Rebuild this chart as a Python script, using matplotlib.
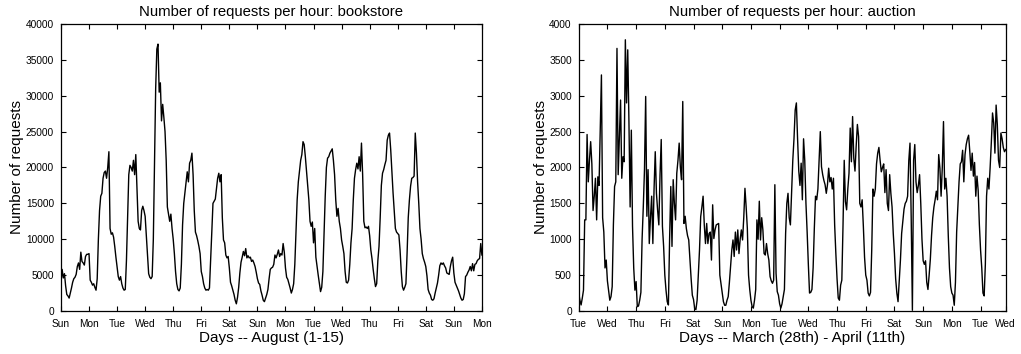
import numpy as np
import matplotlib
matplotlib.use("Agg")
import matplotlib.pyplot as plt

plt.rcParams['font.family'] = ['Liberation Sans', 'DejaVu Sans']

# hourly request counts, bookstore trace, August 1-15
bookstore = [
    4000, 5800, 4600, 5200, 3500, 2300, 2100, 1800, 2500, 3200, 4000, 4500, 4700, 5100, 6200, 6700, 5800, 8200, 6900, 6700, 6400, 7600, 7900, 7900,
    8000, 4300, 4000, 3600, 3800, 3300, 2900, 4500, 10000, 14000, 16000, 16400, 18500, 19300, 19500, 18500, 20000, 22200, 11500, 10700, 10900, 10300, 9000, 7500,
    6200, 4800, 4300, 4800, 3800, 3200, 2900, 3000, 7000, 13000, 19000, 20300, 20000, 19500, 21000, 19000, 21800, 17000, 12500, 11500, 11300, 14000, 14600, 14000,
    13200, 10500, 8000, 5200, 4700, 4500, 4800, 10000, 21000, 31000, 36500, 37200, 30500, 31800, 26500, 28800, 27000, 25000, 21000, 14500, 13500, 12500, 13500, 11500,
    10000, 8000, 5500, 3800, 3000, 2800, 3200, 6500, 12000, 15000, 16500, 18000, 19400, 18000, 20600, 21000, 22000, 19000, 14000, 11000, 10500, 9800, 9000, 8000,
    5500, 4800, 3800, 3200, 2900, 3000, 2900, 3200, 7000, 11000, 15000, 15300, 15600, 17000, 18500, 19200, 18000, 19000, 13000, 9900, 9500, 7800, 7400, 7600,
    6000, 4000, 3500, 2900, 2300, 1500, 1000, 1900, 3300, 5300, 6800, 7500, 8300, 7700, 8700, 7400, 7700, 7400, 7500, 6900, 7100, 6700, 6200, 5400,
    4500, 3900, 3700, 2800, 2200, 1500, 1300, 1800, 2300, 3000, 4500, 5800, 6000, 6100, 6500, 7800, 7400, 7900, 8500, 7600, 8000, 7800, 9400, 8200,
    6000, 4700, 4400, 3800, 3200, 2500, 3000, 3800, 6500, 11000, 15500, 18000, 19500, 21000, 21800, 23600, 23200, 21500, 19500, 17400, 15500, 12500, 11800, 12400,
    9500, 11500, 7500, 6200, 5000, 3800, 2700, 3300, 5500, 11000, 16000, 20000, 21300, 21500, 22000, 22300, 22600, 21000, 19000, 15500, 13200, 14300, 12500, 11500,
    9900, 9000, 8000, 5500, 4000, 3900, 4300, 6500, 9500, 11500, 15500, 18500, 19700, 20600, 19800, 21500, 19500, 23400, 19000, 12500, 11600, 11700, 11500, 11800,
    10500, 8500, 7300, 5800, 4500, 3400, 3800, 7000, 9000, 13000, 17500, 19200, 19700, 20400, 21000, 23800, 24500, 24800, 22500, 19500, 16500, 14000, 11500, 11000,
    10800, 10600, 8500, 5500, 3400, 2900, 3300, 3800, 8000, 13000, 15500, 17400, 18500, 18600, 18800, 24800, 22000, 18000, 15000, 11500, 10000, 8000, 7300, 6800,
    6200, 4900, 3000, 2500, 2200, 1600, 1500, 1700, 2500, 3200, 3900, 5000, 6300, 6700, 6500, 6700, 6300, 6000, 5300, 5200, 5100, 6200, 7000, 7500,
    5300, 4000, 3600, 3200, 2800, 2300, 1800, 1500, 1600, 2400, 4800, 5000, 5400, 5700, 6200, 5600, 6600, 5600, 6500, 6600, 7000, 7200, 7300, 9400,
    7800,
]

# hourly request counts, auction trace, March 28 - April 11
auction = [
    250, 150, 84, 180, 290, 1270, 1270, 2460, 1800, 2100, 2360, 2050, 1400, 1600, 1850, 1270, 1870, 1750, 2500, 3290, 1300, 1100, 600, 710,
    420, 280, 150, 200, 340, 1200, 1735, 1800, 3660, 1900, 2400, 2940, 1850, 2150, 2080, 3780, 2900, 3640, 2640, 1450, 2520, 1180, 600, 290,
    410, 60, 70, 150, 260, 1000, 1450, 1970, 2990, 1320, 1970, 940, 1300, 1600, 940, 1700, 2220, 1640, 1400, 1200, 1900, 2390, 1180, 900,
    500, 290, 130, 84, 1000, 1735, 900, 1830, 1500, 1270, 1920, 2100, 2340, 2000, 1830, 2920, 1220, 1320, 1150, 1050, 990, 720, 450, 220,
    160, 30, 20, 150, 500, 850, 1315, 1450, 1600, 1200, 940, 1220, 940, 1080, 1100, 710, 1480, 1010, 1130, 1200, 1210, 1220, 500, 380,
    250, 130, 80, 80, 150, 200, 400, 620, 850, 990, 760, 1100, 850, 1130, 800, 1000, 1130, 990, 1300, 1710, 1450, 1150, 500, 300,
    150, 60, 40, 150, 300, 1270, 1000, 1530, 990, 1300, 1130, 800, 780, 940, 800, 710, 480, 420, 386, 430, 1760, 525, 270, 220,
    100, 40, 100, 200, 300, 1080, 1500, 1640, 1300, 1200, 1640, 2100, 2400, 2800, 2900, 2400, 1950, 1750, 2060, 1550, 2400, 2100, 1500, 1100,
    650, 250, 260, 300, 600, 1150, 1600, 1550, 1700, 2100, 2500, 2010, 1900, 1820, 1760, 1640, 1760, 1990, 1800, 1860, 1700, 1850, 1200, 800,
    450, 180, 150, 360, 430, 1200, 2100, 1525, 1410, 1700, 1920, 2550, 2080, 2710, 2130, 1950, 2300, 2600, 2430, 1500, 1450, 1550, 1180, 750,
    500, 430, 250, 210, 260, 850, 1700, 1600, 1700, 2050, 2200, 2280, 2100, 1940, 2000, 2050, 1650, 1970, 1500, 1400, 1900, 1640, 1450, 1080,
    800, 450, 250, 130, 430, 710, 1080, 1250, 1420, 1500, 1530, 1600, 2100, 2340, 1300, 10, 2100, 2320, 1800, 1650, 1750, 1900, 1500, 1000,
    700, 650, 700, 400, 300, 500, 720, 1050, 1300, 1450, 1550, 1670, 1550, 2180, 1990, 1600, 2000, 2640, 1700, 1850, 1600, 1050, 600, 340,
    250, 220, 80, 400, 1100, 1450, 1800, 2050, 2080, 2240, 1800, 2180, 2320, 2400, 2450, 2220, 1960, 2200, 1880, 2070, 1600, 1880, 1680, 1200,
    850, 600, 250, 210, 650, 1600, 1850, 1700, 2000, 2350, 2760, 2620, 2200, 2870, 2600, 2100, 2000, 2480, 2400, 2280, 2220, 2250,
]

book_days = ['Sun', 'Mon', 'Tue', 'Wed', 'Thu', 'Fri', 'Sat',
             'Sun', 'Mon', 'Tue', 'Wed', 'Thu', 'Fri', 'Sat', 'Sun', 'Mon']
auction_days = ['Tue', 'Wed', 'Thu', 'Fri', 'Sat', 'Sun', 'Mon',
                'Tue', 'Wed', 'Thu', 'Fri', 'Sat', 'Sun', 'Mon', 'Tue', 'Wed']


def style(ax):
    for s in ax.spines.values():
        s.set_linewidth(0.9)
    ax.tick_params(direction='in', length=3.5, width=0.8, top=True, right=True,
                   labelsize=7.3, pad=5)
    ax.tick_params(axis='x', pad=6)


fig = plt.figure(figsize=(10.21, 3.54), dpi=100)

# bookstore panel
ax1 = fig.add_axes([0.0597, 0.1215, 0.4123, 0.8107])
h1 = np.arange(len(bookstore))
ax1.plot(h1, bookstore, color='black', lw=1.0)
ax1.set_xlim(0, 360)
ax1.set_ylim(0, 40000)
ax1.set_xticks(np.arange(0, 361, 24))
ax1.set_xticklabels(book_days)
ax1.set_yticks(np.arange(0, 40001, 5000))
ax1.set_title('Number of requests per hour: bookstore', fontsize=10.7, pad=6)
ax1.set_xlabel('Days -- August (1-15)', fontsize=11, labelpad=1)
ax1.set_ylabel('Number of requests', fontsize=11, labelpad=1)
style(ax1)

# auction panel
ax2 = fig.add_axes([0.5668, 0.1215, 0.4182, 0.8107])
h2 = np.arange(len(auction))
ax2.plot(h2, auction, color='black', lw=1.0)
end2 = len(auction) - 1
ax2.set_xlim(0, end2)
ax2.set_ylim(0, 4000)
ax2.set_xticks(list(np.arange(0, end2 - 20, 24)) + [end2])
ax2.set_xticklabels(auction_days)
ax2.set_yticks(np.arange(0, 4001, 500))
ax2.set_title('Number of requests per hour: auction', fontsize=10.7, pad=6)
ax2.set_xlabel('Days -- March (28th) - April (11th)', fontsize=11, labelpad=1)
ax2.set_ylabel('Number of requests', fontsize=11, labelpad=1)
style(ax2)

fig.savefig('out.png', dpi=100)
